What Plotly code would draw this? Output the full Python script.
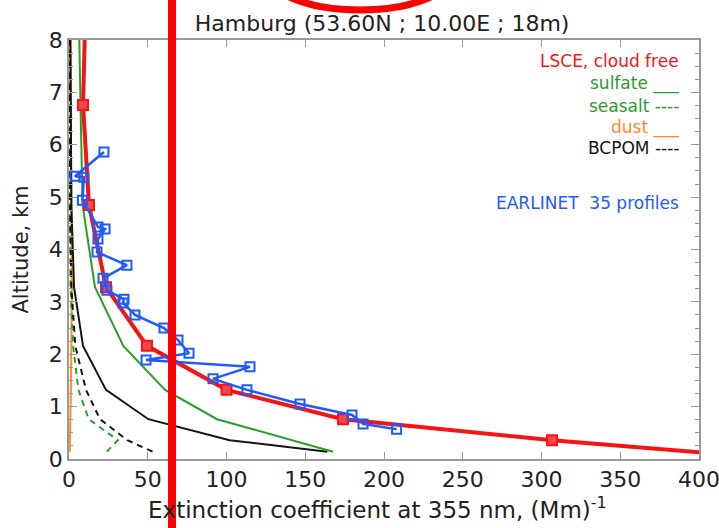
import plotly.graph_objects as go

# Model levels (km) and component extinction profiles (Mm^-1)
model_alt = [0.14, 0.36, 0.76, 1.32, 2.16, 3.28, 4.85, 6.76, 9.2]
sulfate = [167.6, 141, 94, 61, 34.5, 16.5, 8.6, 7.3, 5.8]
seasalt = [24, 31, 12.5, 6, 2.6, 1.0, 0.5, 0.3, 0.2]
dust = [0.5, 0.7, 0.9, 1.2, 1.5, 1.8, 1.5, 1.0, 0.6]
bcpom = [53, 37, 19.7, 10.8, 4.0, 1.5, 0.7, 0.4, 0.3]
black_solid = [164, 102, 50.4, 23.5, 8.9, 3.2, 1.5, 0.9, 0.7]

# LSCE cloud-free total (lowest level lies beyond the 400 axis limit)
lsce_alt = [0.08, 0.36, 0.76, 1.32, 2.16, 3.28, 4.85, 6.76, 9.2]
lsce_total = [420, 306.7, 174, 100, 49.5, 23.5, 12.7, 8.9, 11.0]

# EARLINET mean profile (35 profiles)
earl_ext = [22.2, 3.8, 9.5, 8.5, 18.4, 22.9, 18.4, 17.8, 36.8, 21.6, 24.1, 34.9,
            34.3, 41.9, 60.3, 69.2, 76.2, 48.9, 114.9, 91.4, 113, 146.7, 179.7,
            186.7, 208]
earl_alt = [5.86, 5.40, 5.38, 4.94, 4.43, 4.39, 4.20, 3.95, 3.70, 3.45, 3.22, 3.05,
            2.98, 2.75, 2.50, 2.27, 2.02, 1.89, 1.76, 1.53, 1.32, 1.05, 0.84,
            0.67, 0.57]

x_ticks = [0, 50, 100, 150, 200, 250, 300, 350, 400]
y_ticks = [0, 1, 2, 3, 4, 5, 6, 7, 8]

RED = "rgb(245,20,20)"
GREEN = "rgb(40,160,40)"
ORANGE = "rgb(255,140,40)"
BLACK = "rgb(20,20,20)"
BLUE = "rgb(30,90,255)"
FONT = "DejaVu Sans"

fig = go.Figure()
fig.add_trace(go.Scatter(x=dust, y=model_alt, mode="lines",
                         line=dict(color=ORANGE, width=2)))
fig.add_trace(go.Scatter(x=seasalt, y=model_alt, mode="lines",
                         line=dict(color=GREEN, width=2, dash="6px,5px")))
fig.add_trace(go.Scatter(x=bcpom, y=model_alt, mode="lines",
                         line=dict(color=BLACK, width=2, dash="6px,5px")))
fig.add_trace(go.Scatter(x=black_solid, y=model_alt, mode="lines",
                         line=dict(color=BLACK, width=2)))
fig.add_trace(go.Scatter(x=sulfate, y=model_alt, mode="lines",
                         line=dict(color=GREEN, width=2)))
fig.add_trace(go.Scatter(x=lsce_total, y=lsce_alt, mode="lines+markers",
                         line=dict(color=RED, width=4),
                         marker=dict(symbol="square", size=10,
                                     color="rgb(250,70,70)",
                                     line=dict(width=2, color=RED))))
fig.add_trace(go.Scatter(x=earl_ext, y=earl_alt, mode="lines+markers",
                         line=dict(color=BLUE, width=2.5),
                         marker=dict(symbol="square-open", size=9, color=BLUE,
                                     line=dict(width=2, color=BLUE))))

legend_items = [
    ("LSCE, cloud free", RED, 0.950),
    ("sulfate ___", GREEN, 0.897),
    ("seasalt ----", GREEN, 0.842),
    ("dust ___", ORANGE, 0.792),
    ("BCPOM ----", BLACK, 0.742),
    ("EARLINET  35 profiles", BLUE, 0.611),
]
for txt, col, yy in legend_items:
    fig.add_annotation(text=txt, xref="paper", yref="paper", x=0.971, y=yy,
                       xanchor="right", yanchor="middle", showarrow=False,
                       font=dict(family=FONT, size=17, color=col))

# x-axis title (placed as an annotation so it sits as in the reference)
fig.add_annotation(text="Extinction coefficient at 355 nm, (Mm)<sup>-1</sup>",
                   xref="paper", yref="paper", x=0.489, y=-0.117,
                   xanchor="center", yanchor="middle", showarrow=False,
                   font=dict(family=FONT, size=23, color="#222222"))

axis_common = dict(showline=True, linecolor="#999999", linewidth=1.5,
                   mirror="ticks", ticks="inside", tickcolor="#999999",
                   showgrid=False, zeroline=False, automargin=False,
                   ticklabeloverflow="allow",
                   tickfont=dict(family=FONT, size=22, color="#222222"))

fig.update_xaxes(range=[0, 400], tickvals=x_ticks, ticklen=7, **axis_common)
fig.update_yaxes(range=[0, 8], tickvals=y_ticks, ticklen=8,
                 minor=dict(dtick=0.25, ticks="inside", ticklen=4,
                            tickcolor="#999999"),
                 title=dict(text="Altitude, km",
                            font=dict(family=FONT, size=21, color="#222222"),
                            standoff=14),
                 **axis_common)

fig.update_layout(
    width=719, height=528,
    margin=dict(l=69, r=20, t=40, b=69),
    paper_bgcolor="white", plot_bgcolor="white",
    showlegend=False,
    title=dict(text="Hamburg (53.60N ; 10.00E ; 18m)", x=0.497, xref="paper",
               y=0.956, yref="container", xanchor="center", yanchor="middle",
               font=dict(family=FONT, size=22, color="#222222")),
    shapes=[
        dict(type="line", xref="paper", yref="paper", x0=0.1635, x1=0.1635,
             y0=-0.2, y1=1.2, line=dict(color="rgb(255,0,0)", width=8)),
        dict(type="circle", xref="paper", yref="paper", x0=0.318, x1=0.606,
             y0=1.0716, y1=1.2387, line=dict(color="rgb(255,0,0)", width=7)),
    ],
)

# Remove the default page margin so the figure fills the window exactly.
fig.write_html("out.html",
               config={"displayModeBar": False},
               post_script="document.body.style.margin='0';")
